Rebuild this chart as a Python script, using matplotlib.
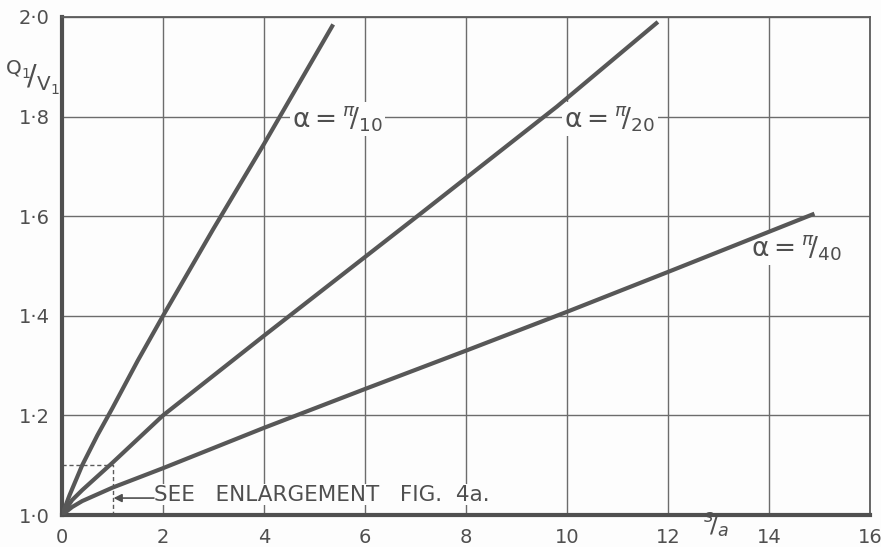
import matplotlib
matplotlib.use("Agg")
import matplotlib.pyplot as plt

plt.rcParams["font.family"] = ["DejaVu Sans"]
plt.rcParams["mathtext.fontset"] = "dejavusans"

# Q1/V1 against s/a for three wedge angles
x_pi10 = [0.0, 0.15, 0.4, 0.7, 1.0, 1.5, 2.0, 3.0, 4.0, 5.37]
y_pi10 = [1.0, 1.04, 1.10, 1.16, 1.215, 1.31, 1.40, 1.575, 1.745, 1.985]

x_pi20 = [0.0, 0.2, 0.4, 1.0, 2.0, 4.0, 7.1, 9.8, 11.8]
y_pi20 = [1.0, 1.03, 1.05, 1.105, 1.20, 1.36, 1.605, 1.82, 1.99]

x_pi40 = [0.0, 0.2, 0.4, 1.0, 2.0, 4.0, 6.0, 8.0, 10.0, 12.0, 14.9]
y_pi40 = [1.0, 1.016, 1.028, 1.055, 1.094, 1.175, 1.253, 1.33, 1.408, 1.488, 1.605]

x_ticks = [0, 2, 4, 6, 8, 10, 12, 14, 16]
x_tick_labels = ["0", "2", "4", "6", "8", "10", "12", "14", "16"]
y_ticks = [1.0, 1.2, 1.4, 1.6, 1.8, 2.0]
y_tick_labels = ["1·0", "1·2", "1·4", "1·6", "1·8", "2·0"]

ink = "#4f4f4f"
grid_ink = "#6c6c6c"
paper = "#fdfdfd"

fig = plt.figure(figsize=(8.81, 5.47), dpi=100, facecolor=paper)
ax = fig.add_axes([0.0704, 0.0585, 0.9171, 0.9105])
ax.set_facecolor(paper)
ax.set_xlim(0, 16)
ax.set_ylim(1.0, 2.0)

ax.set_xticks(x_ticks)
ax.set_xticklabels(x_tick_labels)
ax.set_yticks(y_ticks)
ax.set_yticklabels(y_tick_labels)
ax.tick_params(length=0, labelsize=14, labelcolor=ink, pad=9)
ax.grid(True, color=grid_ink, lw=1.0, zorder=1)
ax.set_axisbelow(True)

for side in ("left", "bottom"):
    ax.spines[side].set_linewidth(3.0)
    ax.spines[side].set_color("#505050")
for side in ("top", "right"):
    ax.spines[side].set_linewidth(1.3)
    ax.spines[side].set_color("#5c5c5c")

for xs, ys in ((x_pi10, y_pi10), (x_pi20, y_pi20), (x_pi40, y_pi40)):
    ax.plot(xs, ys, color="#575757", lw=3.0, solid_capstyle="butt",
            solid_joinstyle="round", zorder=3)

# curve labels, each sitting on a white patch over the grid
box = dict(facecolor=paper, edgecolor="none", pad=1.5)
label_kw = dict(fontsize=19, color=ink, ha="left", va="center", bbox=box, zorder=2.5)
ax.text(4.55, 1.795, r"$\mathrm{\alpha}={}^{\pi}\!/_{10}$", **label_kw)
ax.text(9.95, 1.795, r"$\mathrm{\alpha}={}^{\pi}\!/_{20}$", **label_kw)
ax.text(13.65, 1.535, r"$\mathrm{\alpha}={}^{\pi}\!/_{40}$", **label_kw)

# region enlarged in a separate figure
ax.plot([0, 1, 1], [1.1, 1.1, 1.0], color="#5a5a5a", lw=1.0, ls=(0, (3, 2)), zorder=2)
ax.annotate("", xy=(1.02, 1.034), xytext=(1.82, 1.034),
            arrowprops=dict(arrowstyle="-|>", color=ink, lw=1.2,
                            mutation_scale=12, shrinkA=0, shrinkB=0), zorder=4)
ax.text(1.82, 1.041, "SEE   ENLARGEMENT   FIG.  4a.", fontsize=15.5, color=ink,
        ha="left", va="center", bbox=dict(facecolor=paper, edgecolor="none", pad=0.5),
        zorder=2.5)

# axis titles
fig.text(0.037, 0.857, r"${}^{\mathrm{Q_1}}\!/_{\mathrm{V_1}}$", fontsize=20.5, color=ink,
         ha="center", va="center")
fig.text(0.8125, 0.038, r"${}^{s}\!/_{a}$", fontsize=18, color=ink, ha="center", va="center")

fig.savefig("out.png", dpi=100, facecolor=fig.get_facecolor())
